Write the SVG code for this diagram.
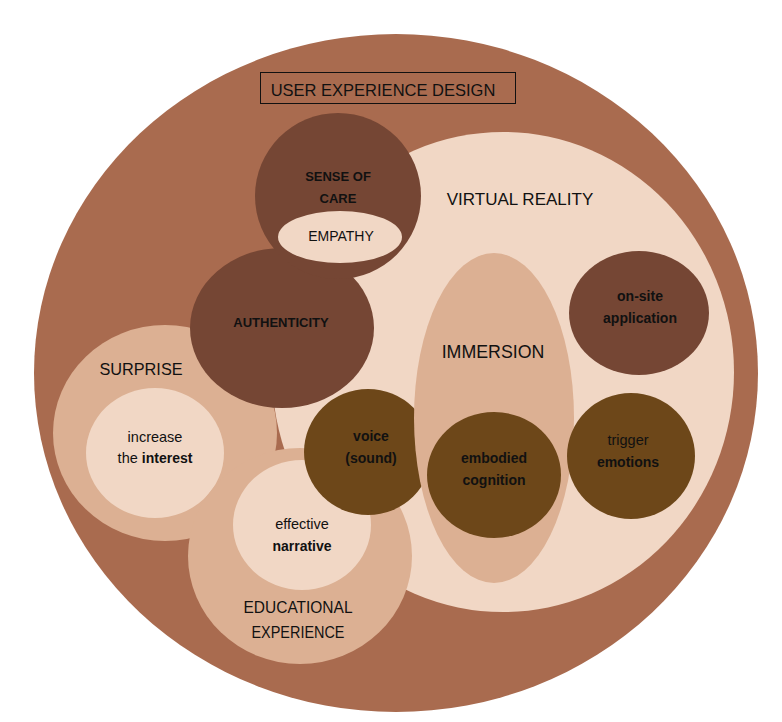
<svg xmlns="http://www.w3.org/2000/svg" width="782" height="722" viewBox="0 0 782 722">
<style>
.outer{fill:#a96b4f}
.light{fill:#f1d7c5}
.tan{fill:#dcb093}
.dark{fill:#754634}
.olive{fill:#6d4719}
text{font-family:"Liberation Sans",Arial,sans-serif;fill:#111;text-anchor:middle}
.big{font-size:17px}
.sm{font-size:13px}
.rg{font-size:14.5px}
.lb{font-size:14px;font-weight:bold}
.b{font-weight:bold}
</style>
<rect width="782" height="722" fill="#ffffff"/>
<g id="ux-design">
<ellipse class="outer" cx="396" cy="373" rx="362" ry="339"/>
<rect x="260.5" y="72.5" width="255" height="31" fill="none" stroke="#111" stroke-width="1"/>
<text x="383" y="96" style="font-size:16.5px">USER EXPERIENCE DESIGN</text>
</g>
<g id="virtual-reality">
<ellipse class="light" cx="503" cy="372" rx="231" ry="240"/>
<text class="big" x="520" y="205">VIRTUAL REALITY</text>
</g>
<g id="surprise">
<ellipse class="tan" cx="165" cy="433" rx="112" ry="108"/>
<text x="141" y="375" style="font-size:16.3px">SURPRISE</text>
</g>
<g id="increase-interest">
<ellipse class="light" cx="155" cy="453" rx="69" ry="65"/>
<text class="rg" x="155" y="442">increase</text>
<text class="rg" x="155" y="463">the <tspan class="lb">interest</tspan></text>
</g>
<g id="educational-experience">
<ellipse class="tan" cx="300" cy="556" rx="112" ry="108"/>
<text x="298" y="613" style="font-size:16.5px" textLength="109" lengthAdjust="spacingAndGlyphs">EDUCATIONAL</text>
<text x="298" y="638" style="font-size:16.5px" textLength="93" lengthAdjust="spacingAndGlyphs">EXPERIENCE</text>
</g>
<g id="effective-narrative">
<ellipse class="light" cx="302" cy="525" rx="69" ry="65"/>
<text class="rg" x="302" y="529">effective</text>
<text class="lb" x="302" y="551">narrative</text>
</g>
<g id="authenticity">
<ellipse class="dark" cx="282" cy="328" rx="92" ry="80"/>
<text class="sm b" x="281" y="327">AUTHENTICITY</text>
</g>
<g id="sense-of-care">
<ellipse class="dark" cx="338" cy="196" rx="83" ry="83"/>
<text class="sm b" x="338" y="181">SENSE OF</text>
<text class="sm b" x="338" y="203">CARE</text>
</g>
<g id="empathy">
<ellipse class="light" cx="340" cy="237" rx="62" ry="26"/>
<text x="341" y="241" style="font-size:14px">EMPATHY</text>
</g>
<g id="voice-sound">
<ellipse class="olive" cx="368" cy="452" rx="64" ry="63"/>
<text class="lb" x="371" y="441">voice</text>
<text class="lb" x="371" y="463">(sound)</text>
</g>
<g id="immersion">
<ellipse class="tan" cx="494" cy="418" rx="80" ry="165"/>
<text x="493" y="358" style="font-size:17.8px">IMMERSION</text>
</g>
<g id="embodied-cognition">
<ellipse class="olive" cx="494" cy="475" rx="67" ry="63"/>
<text class="lb" x="494" y="463">embodied</text>
<text class="lb" x="494" y="485">cognition</text>
</g>
<g id="trigger-emotions">
<ellipse class="olive" cx="631" cy="456" rx="64" ry="63"/>
<text class="rg" x="628" y="445">trigger</text>
<text class="lb" x="628" y="467">emotions</text>
</g>
<g id="on-site-application">
<ellipse class="dark" cx="639" cy="313" rx="70" ry="62"/>
<text class="lb" x="640" y="301">on-site</text>
<text class="lb" x="640" y="323">application</text>
</g>
<g id="connectors"/>
</svg>
